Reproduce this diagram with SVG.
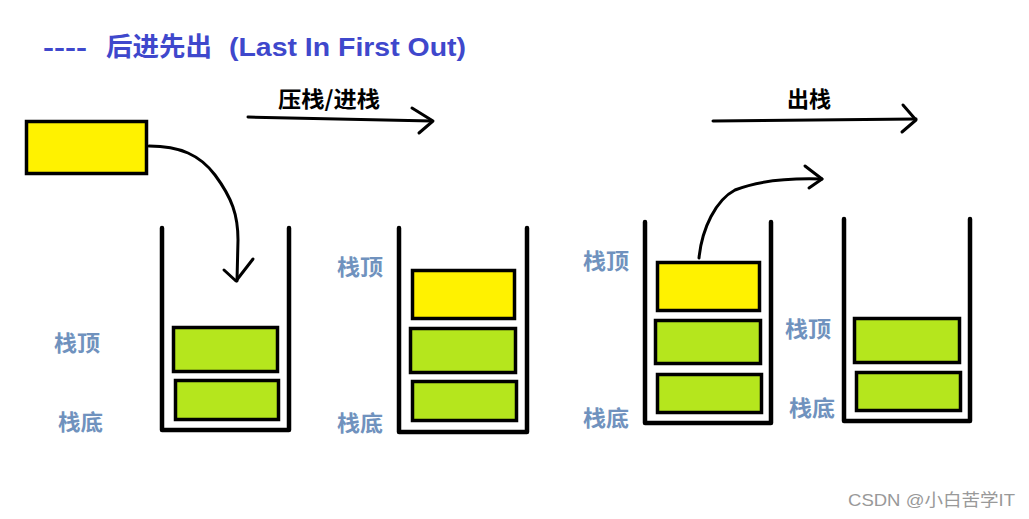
<svg xmlns="http://www.w3.org/2000/svg" width="1029" height="519" viewBox="0 0 1029 519">
<style>
.wall{fill:none;stroke:#000;stroke-width:4.5;stroke-linecap:round;stroke-linejoin:round}
.blk{stroke:#000;stroke-width:3.5}
.y{fill:#fff200}
.g{fill:#b5e61d}
.conn{fill:none;stroke:#000;stroke-width:3;stroke-linecap:round;stroke-linejoin:round}
.lbl{font-family:"Noto Sans CJK SC","Liberation Sans",sans-serif;font-weight:bold;font-size:22px;fill:#7092be}
.op{font-family:"Noto Sans CJK SC","Liberation Sans",sans-serif;font-weight:bold;font-size:22px;fill:#000}
.title{font-family:"Liberation Sans","Noto Sans CJK SC",sans-serif;font-weight:bold;font-size:26px;fill:#3f48cc}
</style>
<rect width="1029" height="519" fill="#fff"/>
<g id="title">
<text class="title" x="43" y="56" textLength="44" lengthAdjust="spacingAndGlyphs">----</text>
<text class="title" x="106" y="56" textLength="106" lengthAdjust="spacingAndGlyphs" font-family="Noto Sans CJK SC, sans-serif">后进先出</text>
<text class="title" x="229" y="56" textLength="237" lengthAdjust="spacingAndGlyphs">(Last In First Out)</text>
</g>
<g id="source-block">
<rect class="blk y" x="26.5" y="121.5" width="120" height="52"/>
</g>
<g id="stack1">
<path class="wall" d="M162 228 V430 H289 V228"/>
<rect class="blk g" x="173.5" y="327.5" width="104" height="44"/>
<rect class="blk g" x="175.5" y="380.5" width="103" height="39"/>
<text class="lbl" x="54" y="351" textLength="46" lengthAdjust="spacingAndGlyphs">栈顶</text>
<text class="lbl" x="58" y="430" textLength="45" lengthAdjust="spacingAndGlyphs">栈底</text>
</g>
<g id="stack2">
<path class="wall" d="M399 228 V432 H527 V228"/>
<rect class="blk y" x="412.5" y="270.5" width="102" height="48"/>
<rect class="blk g" x="410.5" y="328.5" width="105" height="44"/>
<rect class="blk g" x="412.5" y="381.5" width="104" height="39"/>
<text class="lbl" x="337" y="275" textLength="46" lengthAdjust="spacingAndGlyphs">栈顶</text>
<text class="lbl" x="337" y="431" textLength="46" lengthAdjust="spacingAndGlyphs">栈底</text>
</g>
<g id="stack3">
<path class="wall" d="M645 222 V423 H771 V222"/>
<rect class="blk y" x="657.5" y="262.5" width="102" height="48"/>
<rect class="blk g" x="655.5" y="320.5" width="105" height="43"/>
<rect class="blk g" x="657.5" y="374.5" width="104" height="38"/>
<text class="lbl" x="583" y="269" textLength="46" lengthAdjust="spacingAndGlyphs">栈顶</text>
<text class="lbl" x="583" y="426" textLength="46" lengthAdjust="spacingAndGlyphs">栈底</text>
</g>
<g id="stack4">
<path class="wall" d="M844 219 V421 H970 V219"/>
<rect class="blk g" x="854.5" y="318.5" width="105" height="44"/>
<rect class="blk g" x="856.5" y="372.5" width="104" height="38"/>
<text class="lbl" x="785" y="337" textLength="46" lengthAdjust="spacingAndGlyphs">栈顶</text>
<text class="lbl" x="789" y="416" textLength="46" lengthAdjust="spacingAndGlyphs">栈底</text>
</g>
<g id="op-labels">
<text class="op" x="278" y="107" textLength="102" lengthAdjust="spacingAndGlyphs">压栈/进栈</text>
<text class="op" x="787" y="107" textLength="44" lengthAdjust="spacingAndGlyphs">出栈</text>
</g>
<g id="connectors">
<path class="conn" d="M248 117 Q340 119 432 121"/>
<path class="conn" d="M412 108 L433 121 L419 133"/>
<path class="conn" d="M713 121 Q815 120 916 119"/>
<path class="conn" d="M903 105 L916 120 L902 132"/>
<path class="conn" d="M149 146 C180 146 200 155 215 175 C232 198 238 215 238 240 L237 281"/>
<path class="conn" d="M224 270 L236 281 L253 259"/>
<path class="conn" d="M699 258 C702 228 716 200 735 190 C760 180 790 178 822 179"/>
<path class="conn" d="M805 166 L822 179 L809 188"/>
</g>
<g id="watermark">
<text x="848" y="506" font-family="Liberation Sans, Noto Sans CJK SC, sans-serif" font-size="17" fill="#999" textLength="167" lengthAdjust="spacingAndGlyphs">CSDN @小白苦学IT</text>
</g>
</svg>
